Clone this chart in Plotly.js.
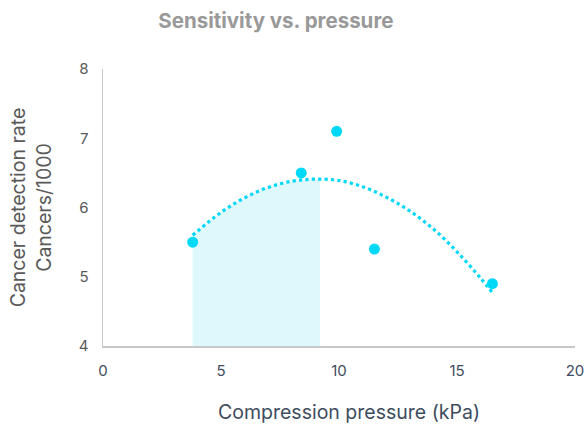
<!DOCTYPE html>
<html><head><meta charset="utf-8">
<script src="https://cdn.plot.ly/plotly-3.0.1.min.js"></script>
<style>html,body{margin:0;padding:0;background:#fff;}#chart{width:587px;height:425px;}</style>
</head><body><div id="chart"></div>
<script>
const pressure = [3.8, 8.4, 9.9, 11.5, 16.5];
const detectionRate = [5.5, 6.5, 7.1, 5.4, 4.9];
const trendX = [3.8, 5, 6, 7, 8, 9, 10, 11, 12, 13, 14, 15, 16, 16.5];
const trendY = [5.60, 5.93, 6.14, 6.29, 6.38, 6.41, 6.39, 6.30, 6.15, 5.95, 5.69, 5.36, 4.98, 4.77];
const shadeX = [3.8, 5, 6, 7, 8, 9, 9.2];
const shadeY = [5.60, 5.93, 6.14, 6.29, 6.38, 6.41, 6.41];

const cyan = '#00D8F8';
const font = 'Inter, "Open Sans", sans-serif';

const data = [
  {x: shadeX, y: shadeY, type: 'scatter', mode: 'none', fill: 'tozeroy',
   fillcolor: '#DFF8FC', line: {shape: 'spline'}, hoverinfo: 'skip', showlegend: false},
  {x: trendX, y: trendY, type: 'scatter', mode: 'lines',
   line: {color: cyan, width: 3.2, dash: 'dot', shape: 'spline'}, showlegend: false},
  {x: pressure, y: detectionRate, type: 'scatter', mode: 'markers',
   marker: {color: cyan, size: 11}, showlegend: false}
];

const layout = {
  width: 587, height: 425,
  margin: {l: 103, r: 12, t: 69, b: 79},
  paper_bgcolor: '#fff', plot_bgcolor: '#fff',
  font: {family: font},
  title: {text: '<b>Sensitivity vs. pressure</b>', x: 0.47, xanchor: 'center', y: 0.95, yanchor: 'middle',
          font: {size: 20.5, color: '#999999', family: font}},
  xaxis: {range: [0, 20], dtick: 5, showgrid: false, zeroline: false,
          showline: true, linecolor: '#C8C8C8', linewidth: 1.5,
          ticks: 'outside', ticklen: 10, tickcolor: 'rgba(0,0,0,0)',
          tickfont: {size: 15, color: '#3E4C5E'}},
  yaxis: {range: [4, 8], dtick: 1, showgrid: false, zeroline: false,
          showline: true, linecolor: '#C8C8C8', linewidth: 1.5,
          ticks: 'outside', ticklen: 10, tickcolor: 'rgba(0,0,0,0)',
          tickfont: {size: 15, color: '#595959'},
          title: {text: 'Cancer detection rate<br>Cancers/1000', standoff: 22, font: {size: 19.5, color: '#595959'}}},
  annotations: [{text: 'Compression pressure (kPa)', xref: 'paper', yref: 'paper',
                 x: 0.521, y: -0.238, xanchor: 'center', yanchor: 'middle', showarrow: false,
                 font: {size: 19.5, color: '#3E4C5E', family: font}}]
};

Plotly.newPlot('chart', data, layout, {displayModeBar: false, staticPlot: true});
</script></body></html>
